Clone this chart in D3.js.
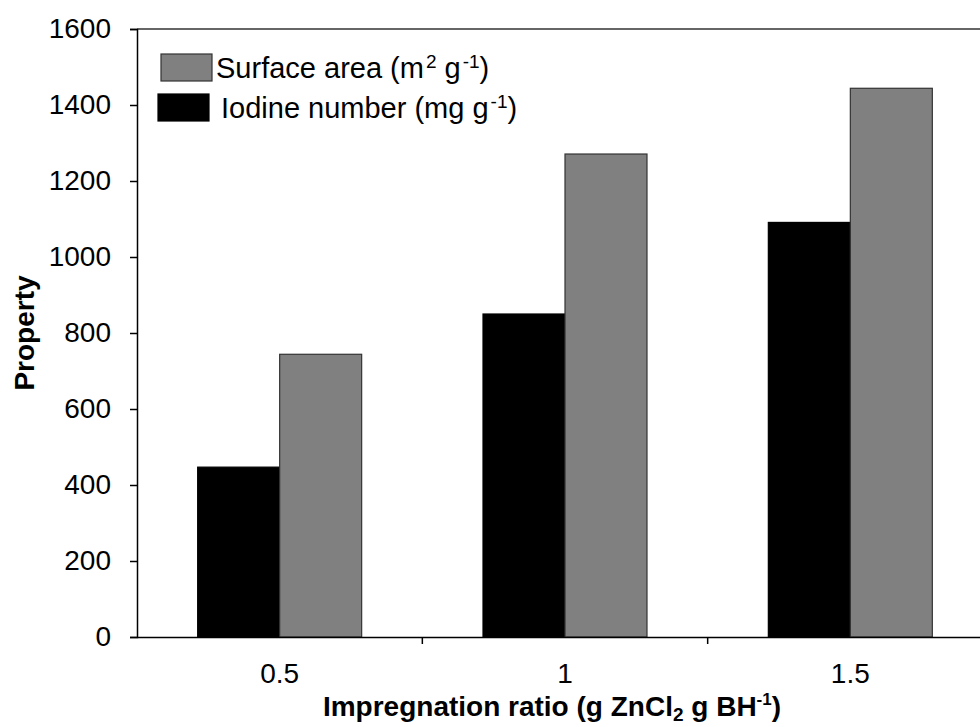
<!DOCTYPE html>
<html>
<head>
<meta charset="utf-8">
<script src="https://cdn.jsdelivr.net/npm/d3@7"></script>
<style>
	body { margin: 0; background: #fff; }
	svg text { font-family: Arial, "Liberation Sans", sans-serif; fill: #000; }
</style>
</head>
<body>
<div id="chart"></div>
<script>
// DATA
const ratios = ['0.5', '1', '1.5'];
const iodineNumber = [447, 850, 1091];	// mg g-1
const surfaceArea = [744, 1271, 1444];	// m2 g-1
const yTicks = [0, 200, 400, 600, 800, 1000, 1200, 1400, 1600];

const W = 980, H = 727;
const margin = { top: 29, right: -13, bottom: 90, left: 137 };
const width = W - margin.left - margin.right;
const height = H - margin.top - margin.bottom;

const root = d3.select('#chart').append('svg').attr('width', W).attr('height', H);
const svg = root.append('g').attr('transform', `translate(${margin.left},${margin.top})`);

const x = d3.scaleBand().domain(ratios).range([0, width]).paddingInner(0).paddingOuter(0);
const inner = d3.scaleBand().domain(['iodine', 'surface']).range([0, x.bandwidth()]).paddingOuter(0.74).paddingInner(0);
const y = d3.scaleLinear().domain([0, 1600]).range([height, 0]);

// frame top
svg.append('line')
	.attr('x1', 0).attr('x2', width).attr('y1', 0).attr('y2', 0)
	.attr('stroke', '#333').attr('stroke-width', 1.5);

// bars
const series = [
	{ key: 'iodine', values: iodineNumber, fill: '#000', stroke: '#000' },
	{ key: 'surface', values: surfaceArea, fill: '#808080', stroke: '#333' }
];
series.forEach(s => {
	svg.append('g').selectAll('rect')
		.data(s.values)
		.enter()
		.append('rect')
		.attr('x', (d, i) => x(ratios[i]) + inner(s.key))
		.attr('y', d => y(d))
		.attr('width', inner.bandwidth())
		.attr('height', d => y(0) - y(d))
		.attr('fill', s.fill)
		.attr('stroke', s.stroke)
		.attr('stroke-width', 1.2);
});

// Axes
const yAxis = svg.append('g')
	.call(d3.axisLeft(y).tickValues(yTicks).tickSize(7).tickPadding(19).tickFormat(d3.format('d')));
yAxis.select('.domain').attr('stroke-width', 1.5);
yAxis.selectAll('line').attr('stroke-width', 1.5);
yAxis.selectAll('text').style('font-size', '28px');

const xAxis = svg.append('g').attr('transform', `translate(0,${height})`)
	.call(d3.axisBottom(x).tickSize(0).tickPadding(26));
xAxis.select('.domain').attr('stroke-width', 1.5).attr('d', `M0,0.5H${width}`);
xAxis.selectAll('text').style('font-size', '28px');

// category separators on x axis
svg.append('g').selectAll('line')
	.data(ratios.slice(1))
	.enter()
	.append('line')
	.attr('x1', d => x(d)).attr('x2', d => x(d))
	.attr('y1', height).attr('y2', height + 7)
	.attr('stroke', '#000').attr('stroke-width', 1.5);

// Axis titles
root.append('text')
	.attr('transform', `translate(34,${margin.top + height / 2}) rotate(-90)`)
	.attr('text-anchor', 'middle')
	.style('font-size', '28px').style('font-weight', 'bold')
	.text('Property');

const xt = root.append('text')
	.attr('x', 552).attr('y', 716)
	.attr('text-anchor', 'middle')
	.style('font-size', '28px').style('font-weight', 'bold');
xt.append('tspan').text('Impregnation ratio (g ZnCl');
xt.append('tspan').attr('dy', 5).style('font-size', '19px').text('2');
xt.append('tspan').attr('dy', -5).text(' g BH');
xt.append('tspan').attr('dy', -11).style('font-size', '17px').text('-1');
xt.append('tspan').attr('dy', 11).text(')');

// Legend
const legend = [
	{ label: ['Surface area (m', '2', ' g', '-1', ')'], fill: '#808080', stroke: '#333', sx: 161, sy: 54, tx: 216, ty: 78 },
	{ label: ['Iodine number (mg g', '-1', ')'], fill: '#000', stroke: '#000', sx: 158, sy: 94, tx: 221, ty: 118 }
];
legend.forEach(l => {
	root.append('rect')
		.attr('x', l.sx).attr('y', l.sy).attr('width', 51).attr('height', 27)
		.attr('fill', l.fill).attr('stroke', l.stroke).attr('stroke-width', 1.2);
	const t = root.append('text').attr('x', l.tx).attr('y', l.ty).style('font-size', '29px');
	l.label.forEach((s, i) => {
		const sup = i % 2 === 1;
		t.append('tspan')
			.attr('dy', sup ? -10 : (i > 0 ? 10 : 0))
			.attr('dx', sup ? 2 : 0)
			.style('font-size', sup ? '19px' : '29px')
			.text(s);
	});
});
</script>
</body>
</html>
